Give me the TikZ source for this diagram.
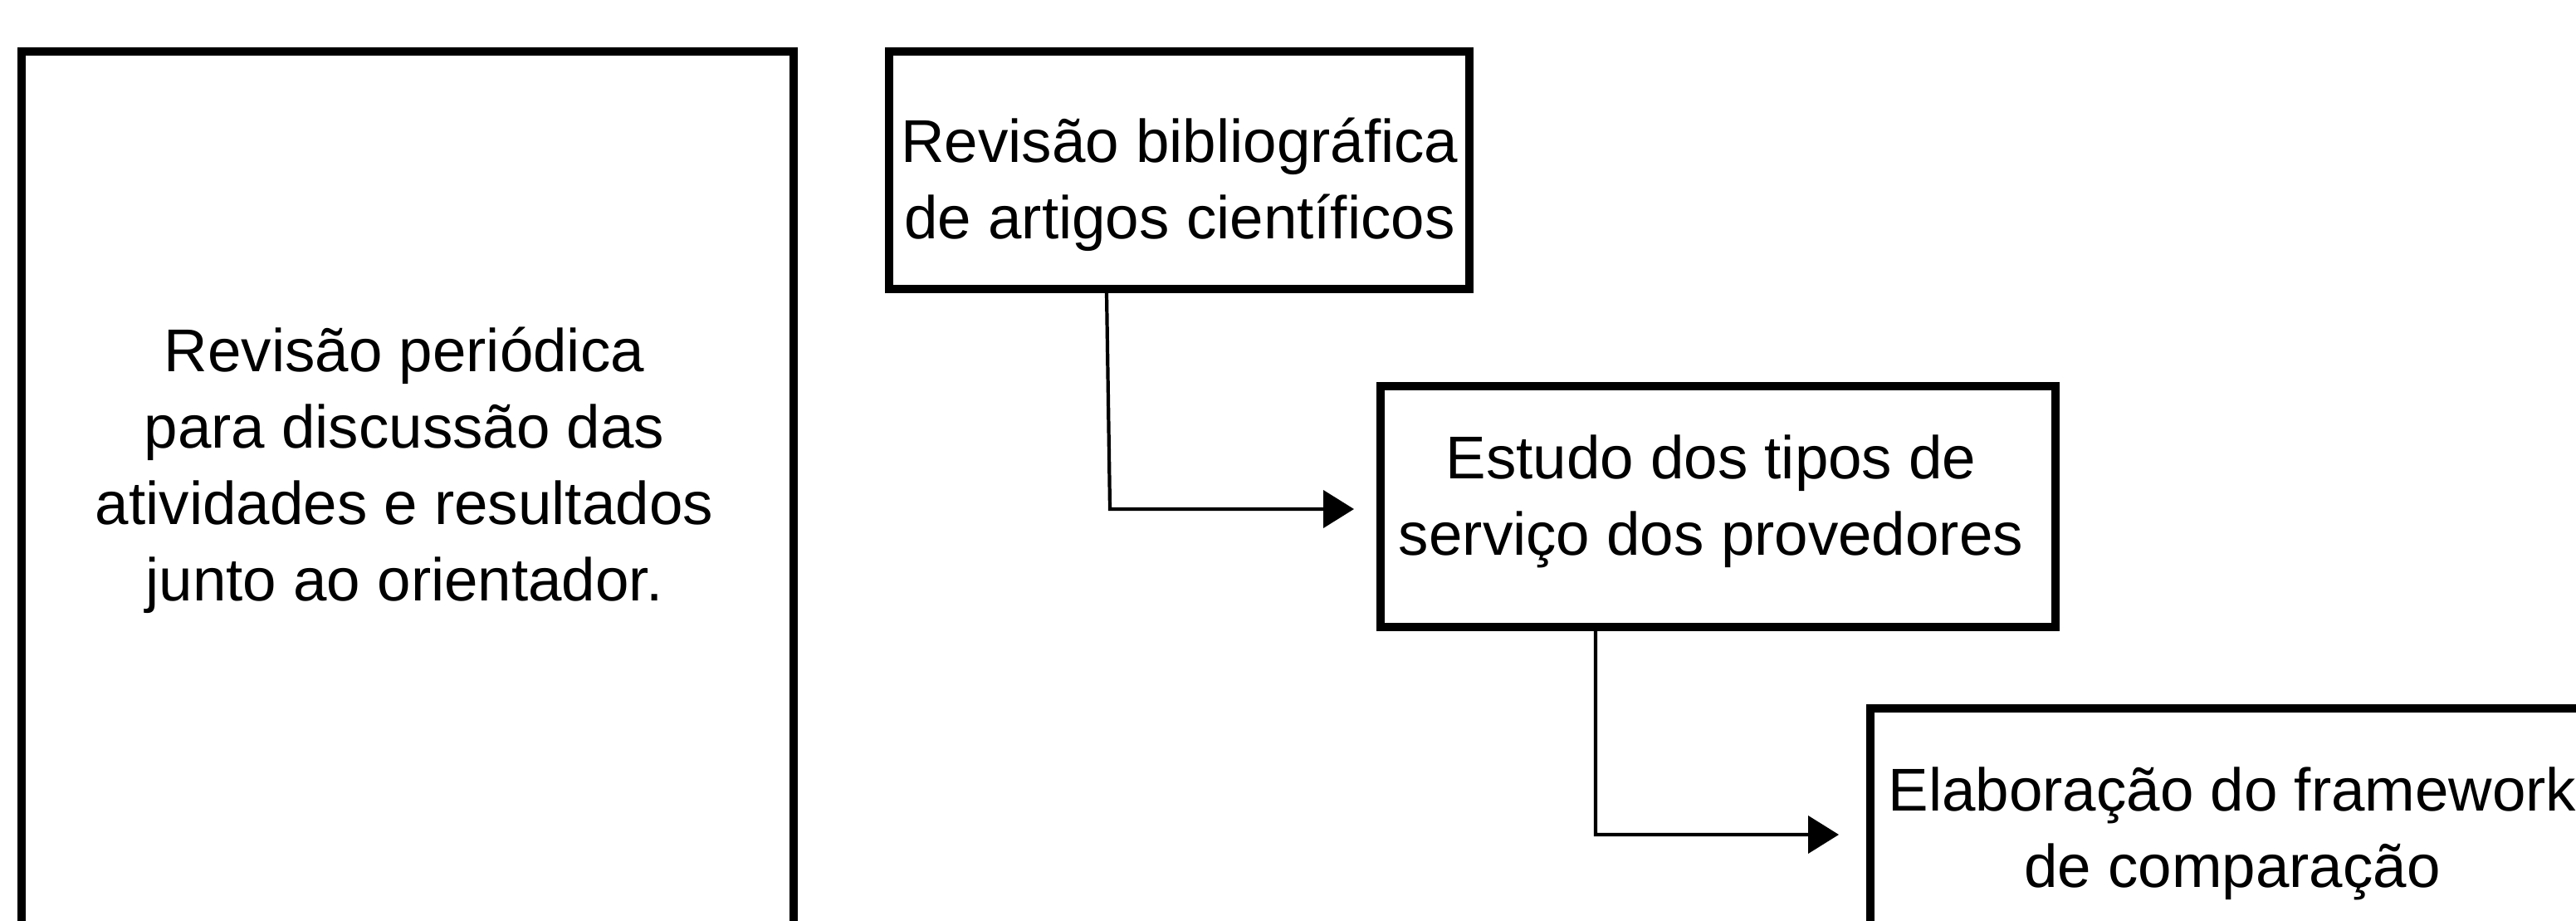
\documentclass[tikz,border=0pt]{standalone}
\usepackage{fontspec}
\setmainfont{Liberation Sans}
\usetikzlibrary{arrows.meta}
\tikzset{
  boxnode/.style={draw=black, line width=2.85pt, rectangle, inner sep=0pt, fill=white},
  txt/.style={align=center, inner sep=0pt, font=\fontsize{20.7}{26.2}\selectfont},
  conn/.style={draw=black, line width=1.2pt, -{Triangle[length=3.7mm,width=4.5mm]}}
}
\begin{document}
\begin{tikzpicture}
\useasboundingbox (0,0) rectangle (31.03,11.08);
\fill[white] (0,0) rectangle (31.03,11.08);
\clip (0,0) rectangle (31.03,11.08);
% boxes
\node[boxnode, minimum width=9.30cm, minimum height=11.46cm] (b0) at (4.91,4.73) {};
\node[boxnode, minimum width=6.99cm, minimum height=2.86cm] (b1) at (14.205,9.03) {};
\node[boxnode, minimum width=8.13cm, minimum height=2.90cm] (b2) at (20.695,4.98) {};
\node[boxnode, minimum width=8.72cm, minimum height=2.90cm] (b3) at (26.89,1.10) {};
% texts
\node[txt] (t0) at (4.87,5.415) {Revisão periódica\\para discussão das\\atividades e resultados\\junto ao orientador.};
\node[txt] (t1) at (14.21,8.86) {Revisão bibliográfica\\de artigos científicos};
\node[txt] (t2) at (20.61,5.045) {Estudo dos tipos de\\serviço dos provedores};
\node[txt] (t3) at (26.89,1.04) {Elaboração do framework\\de comparação};
% connectors
\coordinate (k1) at (13.37,4.95);
\coordinate (e1) at (16.31,4.95);
\draw[conn] ([xshift=-8.75mm]b1.south) -- (k1) -- (e1);
\coordinate (k2) at (19.22,1.03);
\coordinate (e2) at (22.15,1.03);
\draw[conn] ([xshift=-14.75mm]b2.south) -- (k2) -- (e2);
\end{tikzpicture}
\end{document}
